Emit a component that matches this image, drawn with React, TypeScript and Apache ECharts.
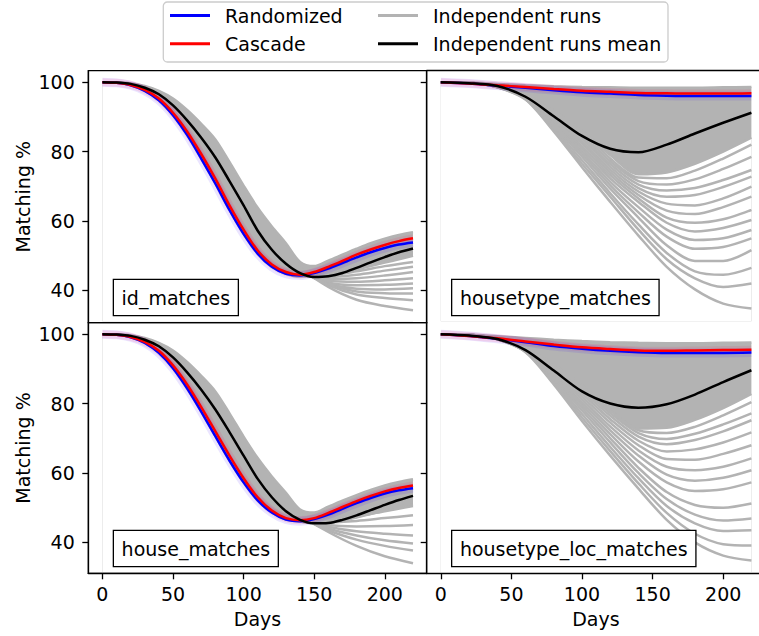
import React, { useEffect, useRef } from "react";
import * as echarts from "echarts";

// ---------------- data ----------------
const DAYS_10 = [0, 10, 20, 30, 40, 50, 60, 70, 80, 90, 100, 110, 120, 130, 140, 150, 160, 170, 180, 190, 200, 210, 220];
const DAYS_20 = [0, 20, 40, 60, 80, 100, 120, 140, 160, 180, 200, 220];
const TAIL_DAYS = [120, 140, 160, 180, 200, 220];
const X_TICKS = [0, 50, 100, 150, 200];
const Y_TICKS = [40, 60, 80, 100];

// id_matches (top-left)
const ID_RANDOMIZED = [100, 99.8, 99.1, 97.5, 94.8, 90.5, 84.8, 78.0, 70.8, 63.2, 56.3, 50.6, 46.8, 44.8, 44.3, 45.0, 46.3, 47.9, 49.5, 51.0, 52.2, 53.2, 53.8];
const ID_CASCADE = [100, 99.8, 99.2, 97.8, 95.3, 91.2, 85.8, 79.3, 72.2, 64.5, 57.5, 51.5, 47.5, 45.3, 44.5, 45.3, 46.8, 48.5, 50.3, 51.8, 53.1, 54.2, 55.0];
const ID_MEAN = [100, 99.9, 99.5, 98.4, 96.5, 93.3, 89.0, 84.0, 78.3, 71.5, 64.5, 57.2, 51.7, 47.7, 45.0, 43.9, 44.1, 45.0, 46.5, 48.1, 49.6, 51.0, 52.1];
const ID_RUNS_UPPER = [100, 99.9, 99.7, 98.9, 97.5, 95.3, 92.0, 88.0, 83.5, 77.0, 70.2, 63.8, 58.4, 53.6, 48.2, 47.0, 48.6, 50.3, 52.0, 53.6, 54.9, 56.0, 56.8];
const ID_RUNS_LOWER = [100, 99.8, 99.1, 97.5, 94.8, 90.5, 84.8, 78.0, 70.8, 63.2, 56.3, 50.6, 46.8, 44.8, 44.0, 44.0, 44.3, 45.0, 46.0, 47.0, 48.0, 49.0, 50.0];
const ID_RUN_TAILS = [
  [51.0, 45.5, 44.5, 45.5, 47.0, 48.2],
  [51.0, 45.2, 43.8, 44.5, 45.7, 46.8],
  [51.5, 45.3, 43.2, 43.5, 44.3, 45.3],
  [52.0, 45.5, 42.8, 42.5, 42.9, 43.5],
  [52.0, 45.6, 42.3, 41.5, 41.6, 42.0],
  [52.5, 45.8, 42.0, 40.5, 40.3, 40.6],
  [53.0, 46.0, 41.8, 39.7, 39.2, 39.1],
  [53.0, 46.2, 41.5, 38.8, 37.8, 37.2],
  [53.5, 46.5, 41.0, 37.3, 35.5, 34.3],
];

// housetype_matches (top-right)
const HT_RANDOMIZED = [100, 99.6, 99.0, 98.4, 97.7, 97.1, 96.7, 96.3, 96.1, 96.0, 96.0, 96.0];
const HT_CASCADE = [100, 99.6, 99.1, 98.6, 98.0, 97.5, 97.2, 96.9, 96.8, 96.7, 96.7, 96.8];
const HT_MEAN = [100, 99.7, 98.9, 95.8, 90.2, 84.5, 80.8, 79.8, 82.0, 85.2, 88.3, 91.2];
const HT_RUNS_UPPER = [100, 99.9, 99.5, 99.1, 98.8, 98.6, 98.5, 98.4, 98.4, 98.4, 98.5, 98.6];
const HT_RUNS_LOWER = [100, 99.8, 98.9, 96.4, 91.8, 86.0, 79.0, 73.5, 74.0, 76.5, 80.0, 84.0];
const HT_RUNS = [
  [100, 99.8, 98.5, 95.0, 85.8, 75.5, 65.5, 55.8, 46.8, 40.3, 36.2, 34.8],
  [100, 99.8, 98.5, 95.1, 86.3, 76.5, 67.0, 57.5, 49.0, 43.5, 41.0, 42.0],
  [100, 99.8, 98.6, 95.2, 86.8, 77.5, 68.0, 59.0, 50.8, 45.5, 44.5, 46.5],
  [100, 99.8, 98.6, 95.3, 87.3, 78.5, 69.3, 61.0, 53.0, 48.5, 48.5, 51.6],
  [100, 99.8, 98.6, 95.4, 87.8, 79.3, 70.3, 62.5, 55.5, 52.0, 52.5, 55.0],
  [100, 99.8, 98.7, 95.5, 88.3, 80.0, 71.3, 64.0, 57.5, 54.5, 55.0, 57.4],
  [100, 99.8, 98.7, 95.6, 88.7, 80.8, 72.3, 65.5, 59.5, 57.0, 58.0, 60.3],
  [100, 99.8, 98.7, 95.7, 89.0, 81.5, 73.2, 66.5, 61.0, 59.5, 60.5, 63.2],
  [100, 99.8, 98.8, 95.8, 89.4, 82.3, 74.0, 67.5, 63.0, 62.0, 64.0, 67.0],
  [100, 99.8, 98.8, 95.9, 89.8, 83.0, 74.8, 68.5, 65.0, 64.5, 66.5, 69.9],
  [100, 99.8, 98.8, 96.0, 90.2, 83.8, 75.6, 69.5, 67.0, 67.5, 69.8, 72.8],
  [100, 99.8, 98.8, 96.1, 90.6, 84.5, 76.4, 70.5, 68.8, 69.5, 71.8, 74.7],
  [100, 99.8, 98.9, 96.2, 91.0, 85.3, 77.2, 71.5, 70.5, 72.0, 75.0, 78.5],
  [100, 99.8, 98.9, 96.3, 91.4, 86.0, 78.0, 72.5, 72.3, 74.5, 78.0, 82.0],
];

// house_matches (bottom-left)
const HOUSE_RANDOMIZED = [100, 99.8, 99.1, 97.5, 94.6, 90.2, 84.4, 77.7, 70.6, 63.6, 57.3, 52.1, 48.6, 46.6, 46.1, 46.7, 48.0, 49.7, 51.3, 52.8, 54.1, 55.0, 55.6];
const HOUSE_CASCADE = [100, 99.8, 99.2, 97.8, 95.2, 91.0, 85.5, 79.0, 72.0, 65.0, 58.5, 53.0, 49.2, 47.0, 46.4, 47.0, 48.5, 50.2, 51.9, 53.4, 54.7, 55.7, 56.4];
const HOUSE_MEAN = [100, 99.9, 99.5, 98.4, 96.5, 93.3, 89.0, 84.0, 78.3, 71.8, 65.0, 58.3, 53.0, 49.0, 46.5, 45.5, 45.6, 46.5, 47.8, 49.3, 50.8, 52.2, 53.4];
const HOUSE_RUNS_UPPER = [100, 99.9, 99.7, 98.9, 97.5, 95.3, 92.0, 88.0, 83.5, 77.2, 70.5, 64.3, 59.0, 54.3, 49.5, 48.6, 50.3, 52.0, 53.6, 55.1, 56.4, 57.4, 58.2];
const HOUSE_RUNS_LOWER = [100, 99.8, 99.1, 97.5, 94.6, 90.2, 84.4, 77.7, 70.6, 63.6, 57.3, 52.1, 48.6, 46.6, 46.0, 45.5, 45.7, 46.3, 47.2, 48.2, 49.2, 50.2, 51.0];
const HOUSE_RUN_TAILS = [
  [52.0, 47.0, 46.5, 47.5, 49.0, 50.5],
  [52.0, 46.8, 45.8, 46.2, 47.0, 47.8],
  [52.5, 46.8, 45.0, 44.6, 44.7, 45.0],
  [53.0, 47.0, 44.5, 43.2, 42.5, 42.0],
  [53.5, 47.3, 44.0, 42.0, 40.6, 39.7],
  [54.0, 47.5, 43.5, 40.8, 39.0, 37.7],
  [54.5, 47.8, 43.0, 39.0, 36.0, 34.0],
];

// housetype_loc_matches (bottom-right)
const HTL_RANDOMIZED = [100, 99.5, 98.7, 97.7, 96.6, 95.8, 95.2, 94.8, 94.6, 94.6, 94.6, 94.7];
const HTL_CASCADE = [100, 99.5, 98.8, 97.9, 97.0, 96.2, 95.7, 95.3, 95.2, 95.3, 95.4, 95.5];
const HTL_MEAN = [100, 99.6, 98.6, 95.4, 89.5, 83.5, 80.0, 78.8, 79.8, 82.6, 86.2, 89.6];
const HTL_RUNS_UPPER = [100, 99.9, 99.4, 98.9, 98.4, 98.0, 97.7, 97.5, 97.4, 97.4, 97.5, 97.6];
const HTL_RUNS_LOWER = [100, 99.8, 98.8, 96.2, 91.3, 85.3, 78.3, 72.8, 73.0, 75.3, 78.7, 82.8];
const HTL_RUNS = [
  [100, 99.8, 98.5, 94.8, 85.5, 75.0, 65.0, 55.5, 46.5, 40.0, 36.2, 34.8],
  [100, 99.8, 98.5, 94.9, 86.0, 76.0, 66.3, 57.0, 48.5, 42.5, 39.5, 39.1],
  [100, 99.8, 98.5, 95.0, 86.5, 77.0, 67.5, 58.5, 50.5, 45.5, 43.3, 43.5],
  [100, 99.8, 98.6, 95.1, 87.0, 78.0, 68.8, 60.0, 52.5, 48.0, 46.3, 46.9],
  [100, 99.8, 98.6, 95.2, 87.5, 78.8, 70.0, 61.5, 54.5, 50.8, 50.0, 51.2],
  [100, 99.8, 98.6, 95.3, 88.0, 79.6, 71.2, 63.3, 57.3, 54.8, 55.3, 57.3],
  [100, 99.8, 98.7, 95.4, 88.4, 80.4, 72.3, 65.0, 59.5, 57.8, 58.6, 60.8],
  [100, 99.8, 98.7, 95.5, 88.8, 81.2, 73.4, 66.5, 61.8, 60.8, 61.8, 64.2],
  [100, 99.8, 98.7, 95.6, 89.2, 82.0, 74.5, 68.0, 64.0, 63.8, 65.5, 68.0],
  [100, 99.8, 98.8, 95.7, 89.6, 82.8, 75.5, 69.3, 66.2, 66.8, 68.8, 71.7],
  [100, 99.8, 98.8, 95.8, 90.0, 83.5, 76.5, 70.5, 68.3, 69.5, 72.0, 75.2],
  [100, 99.8, 98.8, 95.9, 90.4, 84.2, 77.3, 71.5, 69.8, 71.3, 74.0, 77.2],
  [100, 99.8, 98.8, 96.0, 90.7, 84.8, 78.0, 72.3, 71.5, 73.3, 76.6, 80.4],
];

const PANEL_TITLES = ["id_matches", "housetype_matches", "house_matches", "housetype_loc_matches"];

// ---------------- layout / style ----------------
const FONT = "DejaVu Sans";
const FS = 19;
const GRAY = "#b3b3b3";
const BLUE = "#0000ff";
const RED = "#ff0000";
const LW = 2.5;
const X_MIN = -10;
const X_MAX = 229.7;
const GRIDS = [
  { left: 88.3, top: 70.7, width: 338.4, height: 252 },
  { left: 426.7, top: 70.7, width: 338.4, height: 252 },
  { left: 88.3, top: 322.7, width: 338.4, height: 250.6 },
  { left: 426.7, top: 322.7, width: 338.4, height: 250.6 },
];
const Y_RANGES = [
  [30.7, 103.3],
  [30.7, 103.3],
  [31.1, 103.3],
  [31.1, 103.3],
];
const LABEL_POS = [
  [114, 280],
  [452.3, 280],
  [114, 531],
  [452.3, 531],
];

type Panel = {
  days: number[];
  randomized: number[];
  cascade: number[];
  mean: number[];
  upper: number[];
  lower: number[];
  runDays: number[];
  runs: number[][];
};

const PANELS: Panel[] = [
  { days: DAYS_10, randomized: ID_RANDOMIZED, cascade: ID_CASCADE, mean: ID_MEAN, upper: ID_RUNS_UPPER, lower: ID_RUNS_LOWER, runDays: TAIL_DAYS, runs: ID_RUN_TAILS },
  { days: DAYS_20, randomized: HT_RANDOMIZED, cascade: HT_CASCADE, mean: HT_MEAN, upper: HT_RUNS_UPPER, lower: HT_RUNS_LOWER, runDays: DAYS_20, runs: HT_RUNS },
  { days: DAYS_10, randomized: HOUSE_RANDOMIZED, cascade: HOUSE_CASCADE, mean: HOUSE_MEAN, upper: HOUSE_RUNS_UPPER, lower: HOUSE_RUNS_LOWER, runDays: TAIL_DAYS, runs: HOUSE_RUN_TAILS },
  { days: DAYS_20, randomized: HTL_RANDOMIZED, cascade: HTL_CASCADE, mean: HTL_MEAN, upper: HTL_RUNS_UPPER, lower: HTL_RUNS_LOWER, runDays: DAYS_20, runs: HTL_RUNS },
];

const pairs = (days: number[], vals: number[]) => days.map((d, i) => [d, vals[i]]);

function buildSeries() {
  const series: any[] = [];
  PANELS.forEach((p, g) => {
    const common = { xAxisIndex: g, yAxisIndex: g, type: "line", showSymbol: false, symbol: "none", smooth: 0.3, silent: true };
    const floor = Y_RANGES[g][0] + 0.4;
    // dense cloud of independent runs: gray fill from upper envelope, cut by white fill below the lower envelope
    series.push({
      ...common,
      name: "Independent runs band",
      color: GRAY,
      data: pairs(p.days, p.upper),
      lineStyle: { color: GRAY, width: LW },
      areaStyle: { color: GRAY, opacity: 1, origin: floor },
    });
    series.push({
      ...common,
      name: "Independent runs band",
      color: GRAY,
      data: pairs(p.days, p.lower),
      lineStyle: { color: GRAY, width: LW },
      areaStyle: { color: "#ffffff", opacity: 1, origin: floor },
    });
    p.runs.forEach((run) => {
      series.push({
        ...common,
        name: "Independent runs",
        color: GRAY,
        data: pairs(p.runDays, run),
        lineStyle: { color: GRAY, width: LW },
      });
    });
    series.push({
      ...common,
      name: "Randomized spread",
      color: BLUE,
      data: pairs(p.days, p.randomized),
      lineStyle: { color: "rgba(60,0,255,0.10)", width: 9 },
    });
    series.push({
      ...common,
      name: "Cascade spread",
      color: RED,
      data: pairs(p.days, p.cascade),
      lineStyle: { color: "rgba(255,0,80,0.10)", width: 8 },
    });
    series.push({
      ...common,
      name: "Randomized",
      color: BLUE,
      data: pairs(p.days, p.randomized),
      lineStyle: { color: BLUE, width: LW },
    });
    series.push({
      ...common,
      name: "Cascade",
      color: RED,
      data: pairs(p.days, p.cascade),
      lineStyle: { color: RED, width: LW },
    });
    series.push({
      ...common,
      name: "Independent runs mean",
      color: "#000",
      data: pairs(p.days, p.mean),
      lineStyle: { color: "#000", width: LW },
    });
  });
  return series;
}

const textBase = { color: "#000", fontSize: FS, fontFamily: FONT };

function buildOption() {
  const xAxis = GRIDS.map((_, i) => {
    const isBottom = i >= 2;
    const isRight = i % 2 === 1;
    return {
      type: "value",
      gridIndex: i,
      min: X_MIN,
      max: X_MAX,
      position: !isBottom && isRight ? "top" : "bottom",
      splitLine: { show: false },
      axisLine: { show: isBottom || isRight, onZero: false, lineStyle: { color: "#000", width: 1.3 } },
      axisTick: { show: isBottom, customValues: X_TICKS, length: 6, lineStyle: { color: "#000", width: 1.3 } },
      axisLabel: { show: isBottom, customValues: X_TICKS, margin: 11, ...textBase },
      name: isBottom ? "Days" : "",
      nameLocation: "middle",
      nameGap: 36,
      nameTextStyle: textBase,
      z: 5,
    };
  });
  const yAxis = GRIDS.map((_, i) => {
    const isLeft = i % 2 === 0;
    return {
      type: "value",
      gridIndex: i,
      min: Y_RANGES[i][0],
      max: Y_RANGES[i][1],
      splitLine: { show: false },
      axisLine: { show: true, onZero: false, lineStyle: { color: "#000", width: 1.3 } },
      axisTick: { show: true, customValues: Y_TICKS, length: 6, lineStyle: { color: "#000", width: 1.3 } },
      axisLabel: { show: isLeft, customValues: Y_TICKS, margin: 13.5, ...textBase },
      name: isLeft ? "Matching %" : "",
      nameLocation: "middle",
      nameRotate: 90,
      nameGap: 56,
      nameTextStyle: textBase,
      z: 5,
    };
  });
  const grid = GRIDS.map((g, i) => ({
    ...g,
    show: i % 2 === 0,
    borderColor: "#000",
    borderWidth: 1.3,
    backgroundColor: "transparent",
    containLabel: false,
    outerBoundsMode: "none",
  }));
  const legendText = { ...textBase, lineHeight: 22, padding: [0, 0, 0, 10] };
  const legendCommon = {
    orient: "vertical",
    top: 4.5,
    padding: 0,
    itemWidth: 40,
    itemHeight: 3,
    itemGap: 6.3,
    icon: "rect",
    selectedMode: false,
    textStyle: legendText,
  };
  const legend = [
    {
      ...legendCommon,
      left: 170,
      data: [
        { name: "Randomized", itemStyle: { color: BLUE } },
        { name: "Cascade", itemStyle: { color: RED } },
      ],
    },
    {
      ...legendCommon,
      left: 378,
      data: [
        { name: "Independent runs", itemStyle: { color: GRAY } },
        { name: "Independent runs mean", itemStyle: { color: "#000" } },
      ],
    },
  ];
  const graphic = [
    {
      type: "rect",
      z: 0,
      shape: { x: 163.3, y: 2, width: 504.7, height: 60, r: 4 },
      style: { fill: "#fff", stroke: "#cccccc", lineWidth: 1.3 },
    },
    ...PANEL_TITLES.map((t, i) => ({
      type: "text",
      z: 100,
      x: LABEL_POS[i][0],
      y: LABEL_POS[i][1],
      style: {
        text: t,
        fontSize: FS,
        fontFamily: FONT,
        fill: "#000",
        align: "left",
        verticalAlign: "top",
        lineHeight: 22,
        backgroundColor: "#fff",
        borderColor: "#000",
        borderWidth: 1.3,
        padding: [6.5, 7.6, 6.5, 7.6],
      },
    })),
  ];
  return {
    animation: false,
    backgroundColor: "#fff",
    grid,
    xAxis,
    yAxis,
    legend,
    graphic,
    series: buildSeries(),
  };
}

export default function App() {
  const ref = useRef<HTMLDivElement>(null);
  useEffect(() => {
    if (!ref.current) return;
    const chart = echarts.init(ref.current, null, { renderer: "svg" });
    chart.setOption(buildOption() as any);
    return () => chart.dispose();
  }, []);
  return (
    <div
      ref={ref}
      style={{ position: "fixed", left: 0, top: 0, width: 759, height: 636, background: "#fff" }}
    />
  );
}
